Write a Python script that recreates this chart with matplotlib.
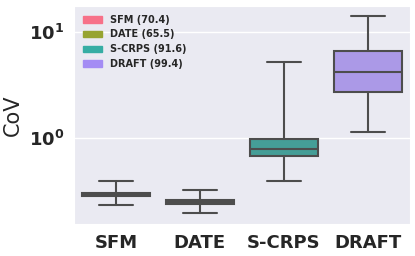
import matplotlib
matplotlib.use("Agg")
import matplotlib.pyplot as plt
import matplotlib.patches as mpatches
import seaborn as sns

categories = ["SFM", "DATE", "S-CRPS", "DRAFT"]
scores = [70.4, 65.5, 91.6, 99.4]
whislo = [0.233, 0.196, 0.393, 1.14]
q1 = [0.285, 0.240, 0.676, 2.72]
med = [0.296, 0.249, 0.787, 4.2]
q3 = [0.305, 0.258, 0.98, 6.6]
whishi = [0.393, 0.323, 5.21, 14.2]

sns.set_style("darkgrid")
colors = sns.color_palette("husl", 4)

fig, ax = plt.subplots(figsize=(4.15, 2.56), dpi=100)
fig.subplots_adjust(left=0.178, right=0.988, top=0.977, bottom=0.125)

stats = []
for i in range(4):
    stats.append({"whislo": whislo[i], "q1": q1[i], "med": med[i],
                  "q3": q3[i], "whishi": whishi[i], "fliers": []})

line_col = "#4d4d4d"
bp = ax.bxp(stats, positions=range(4), widths=0.8, patch_artist=True,
            showfliers=False, capwidths=0.4,
            boxprops=dict(edgecolor=line_col, linewidth=1.5),
            medianprops=dict(color=line_col, linewidth=1.5),
            whiskerprops=dict(color=line_col, linewidth=1.5),
            capprops=dict(color=line_col, linewidth=1.5))
for patch, c in zip(bp["boxes"], colors):
    patch.set_facecolor(sns.desaturate(c, 0.75))

ax.set_yscale("log")
ax.set_ylim(0.154, 17.6)
ax.set_xlim(-0.5, 3.5)
ax.xaxis.grid(False)
ax.yaxis.grid(True, which="major", color="white", linewidth=1)
ax.yaxis.grid(False, which="minor")
ax.tick_params(axis="y", which="minor", length=0)

ax.set_xticks(range(4))
ax.set_xticklabels(categories, fontsize=13, fontweight="bold")
for t in ax.get_yticklabels():
    t.set_fontweight("bold")
ax.tick_params(axis="y", labelsize=13)
ax.set_ylabel("CoV", fontsize=15)

handles = [mpatches.Patch(color=colors[i], label=f"{categories[i]} ({scores[i]})")
           for i in range(4)]
ax.legend(handles=handles, loc="upper left", frameon=False,
          prop={"size": 7, "weight": "bold"})

fig.savefig("out.png", dpi=100)
